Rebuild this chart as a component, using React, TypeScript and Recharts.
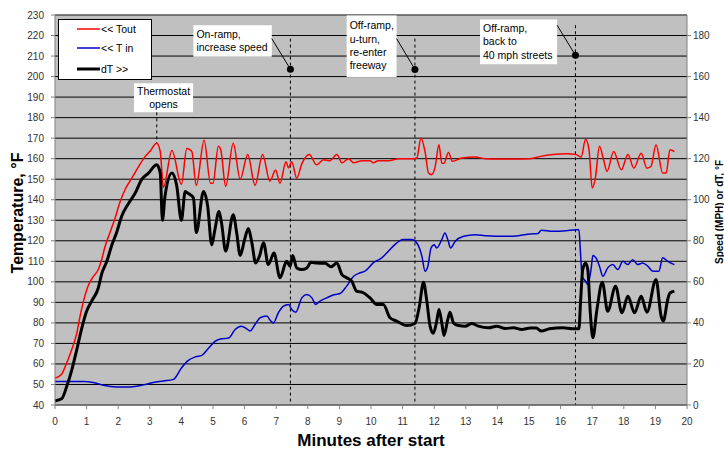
import React from 'react';
import {
  LineChart,
  Line,
  XAxis,
  YAxis,
  CartesianGrid,
  Legend,
  ReferenceLine,
  ReferenceDot,
  ReferenceArea,
} from 'recharts';

document.body.style.margin = '0';

// [minutes, °F]
const toutPoints: [number, number][] = [
  [0, 53], [0.21, 55], [0.37, 60.5], [0.53, 67], [0.69, 75], [0.79, 83], [0.9, 90.5],
  [1.06, 98.5], [1.21, 102.5], [1.37, 106], [1.48, 111], [1.58, 117], [1.74, 124],
  [1.9, 131], [2.06, 139], [2.22, 145], [2.43, 150.5], [2.64, 156], [2.85, 161],
  [3.0, 163.5], [3.22, 167.5], [3.33, 163.5], [3.43, 146], [3.7, 164], [4.0, 147.5],
  [4.17, 165], [4.33, 163.5], [4.47, 147], [4.72, 169], [4.92, 148], [5.0, 148],
  [5.17, 166], [5.25, 164], [5.4, 146.5], [5.64, 167.5], [5.86, 150], [6.1, 162],
  [6.33, 147], [6.57, 162], [6.8, 149], [6.98, 154.5], [7.12, 148], [7.31, 158.5],
  [7.39, 155.5], [7.49, 158.5], [7.65, 150.5], [7.81, 157.5], [8.05, 162], [8.28, 157],
  [8.5, 159.5], [8.7, 159], [8.92, 162], [9.08, 158], [9.29, 160], [9.45, 158],
  [9.71, 159], [9.97, 159], [10.07, 158], [10.23, 159], [10.55, 159], [10.87, 160],
  [11.34, 160], [11.45, 160.3], [11.58, 170], [11.71, 163.5], [11.82, 153],
  [11.92, 152.2], [12.03, 156], [12.15, 166.8], [12.24, 157.8], [12.31, 157.8],
  [12.45, 163], [12.58, 158.7], [12.87, 160.3], [13.3, 160.8], [13.61, 160],
  [14.03, 159.8], [14.46, 159.8], [15.04, 160], [15.34, 161], [15.76, 162],
  [16.18, 162.4], [16.49, 162], [16.65, 160.8], [16.79, 169.5], [16.9, 164.3],
  [17.0, 145.7], [17.1, 150.5], [17.23, 166], [17.36, 159.5], [17.47, 153.8],
  [17.68, 163.5], [17.92, 154.6], [18.13, 162], [18.32, 155.4], [18.55, 162.7],
  [18.73, 155.4], [18.86, 156.2], [19.02, 166.8], [19.23, 153], [19.34, 153],
  [19.46, 164.3], [19.6, 163.5],
];

const tinPoints: [number, number][] = [
  [0, 51.5], [0.9, 51.5], [1.21, 51], [1.53, 49.6], [1.95, 48.8], [2.38, 48.8],
  [2.8, 49.8], [3.11, 51], [3.43, 51.7], [3.75, 52.5], [4.0, 58], [4.2, 61.5],
  [4.45, 63.5], [4.65, 64.2], [4.85, 67.5], [5.06, 71], [5.27, 72.3], [5.5, 72.6],
  [5.7, 76.8], [5.9, 78.4], [6.07, 77.1], [6.17, 76], [6.33, 79.2], [6.49, 82.5],
  [6.7, 83.3], [6.83, 80.9], [6.91, 80], [7.07, 85], [7.23, 88.2], [7.39, 89],
  [7.49, 86.5], [7.62, 85.2], [7.81, 92.2], [7.97, 93.8], [8.13, 92.2], [8.25, 89],
  [8.39, 90.6], [8.6, 92.2], [8.86, 93.8], [9.02, 94.3], [9.23, 97.9], [9.45, 102.7],
  [9.66, 104.4], [9.81, 105.2], [10.07, 109.2], [10.34, 111.7], [10.55, 114.9],
  [10.81, 118.9], [11.02, 120.6], [11.29, 120.6], [11.45, 118.9], [11.61, 112.5],
  [11.71, 105.2], [11.8, 107.6], [11.9, 116.5], [12.0, 118.1], [12.08, 116.5],
  [12.24, 120.6], [12.34, 123.8], [12.43, 120.6], [12.52, 116.5], [12.66, 119.7],
  [12.93, 122.2], [13.3, 123], [13.61, 122.5], [13.93, 122.2], [14.25, 122.2],
  [14.67, 122.5], [15.04, 123.3], [15.28, 123.5], [15.39, 125.1], [15.76, 124.6],
  [16.18, 124.9], [16.49, 125.4], [16.58, 125.4], [16.63, 114], [16.68, 102.7],
  [16.79, 100.3], [16.86, 98.7], [16.97, 106.8], [17.02, 112.8], [17.15, 110.8],
  [17.23, 107.6], [17.34, 102.7], [17.49, 106.8], [17.65, 108.4], [17.81, 106],
  [17.97, 110], [18.13, 108.4], [18.28, 110.8], [18.44, 108.4], [18.6, 109.2],
  [18.76, 107.6], [18.92, 105.2], [19.11, 105.2], [19.23, 111.7], [19.39, 110],
  [19.6, 108.4],
];

// dT on the right-hand scale
const dtPoints: [number, number][] = [
  [0, 2], [0.21, 3], [0.37, 9], [0.53, 17], [0.69, 27], [0.84, 37], [1.0, 45.7],
  [1.16, 50.6], [1.37, 57], [1.48, 64], [1.64, 70], [1.8, 78], [1.95, 84], [2.11, 92],
  [2.32, 98], [2.53, 103], [2.75, 110], [2.96, 113], [3.22, 117], [3.33, 113],
  [3.4, 90], [3.48, 101.6], [3.7, 113], [3.85, 107], [4.0, 90], [4.12, 104],
  [4.22, 103], [4.38, 101], [4.47, 84], [4.7, 104], [4.83, 97], [4.96, 78],
  [5.06, 85.4], [5.19, 94.3], [5.27, 88.7], [5.4, 75], [5.64, 92.7], [5.75, 83.8],
  [5.86, 72.8], [6.0, 80.6], [6.12, 86], [6.23, 79], [6.35, 69.2], [6.47, 72.5],
  [6.6, 79], [6.75, 68.4], [6.93, 74], [7.12, 62], [7.33, 70], [7.44, 67.6],
  [7.52, 72.8], [7.65, 66.8], [7.81, 66], [7.97, 66.8], [8.1, 69.5], [8.28, 69.2],
  [8.55, 69], [8.74, 67.3], [8.92, 69.2], [9.08, 63.5], [9.23, 62], [9.39, 60.3],
  [9.55, 55.4], [9.71, 55], [9.97, 52.2], [10.18, 49], [10.39, 49], [10.6, 42.5],
  [10.81, 40.9], [11.13, 38.7], [11.39, 39.7], [11.53, 48], [11.66, 59.8],
  [11.76, 51.4], [11.87, 38.4], [11.97, 34.9], [12.08, 40.9], [12.15, 46.5],
  [12.24, 40], [12.31, 33.9], [12.43, 41.7], [12.5, 45.2], [12.61, 40], [12.77, 38.7],
  [12.98, 38.4], [13.19, 39.7], [13.4, 38.4], [13.72, 37.6], [13.98, 38.4],
  [14.25, 37.3], [14.51, 37.6], [14.77, 36.8], [15.04, 37.5], [15.23, 37.5],
  [15.39, 36], [15.65, 37.1], [16.07, 37.6], [16.39, 37.1], [16.58, 37.1],
  [16.63, 49.8], [16.7, 66], [16.79, 69.2], [16.86, 66], [16.94, 44.9], [17.02, 32.8],
  [17.15, 46.5], [17.32, 59.8], [17.49, 45.7], [17.74, 57.9], [17.94, 44.9],
  [18.13, 53], [18.34, 44.9], [18.55, 53], [18.73, 45.2], [19.02, 61.1], [19.18, 43.3],
  [19.25, 40.9], [19.39, 51.4], [19.46, 54.6], [19.6, 55.4],
];

const seriesNames = ['<< Tout', '<< T in', 'dT >>'];
const xTicks = [0, 1, 2, 3, 4, 5, 6, 7, 8, 9, 10, 11, 12, 13, 14, 15, 16, 17, 18, 19, 20];
const tempTicks = [40, 50, 60, 70, 80, 90, 100, 110, 120, 130, 140, 150, 160, 170, 180, 190, 200, 210, 220, 230];
const speedTicks = [0, 20, 40, 60, 80, 100, 120, 140, 160, 180];

// road events: time of the dashed marker, where the callout points
const events = [
  { t: 7.45, top: 218.5, dotY: 203.6, fromT: 6.86, fromY: 218.5 },
  { t: 11.39, top: 218.5, dotY: 203.5, fromT: 10.81, fromY: 218.5 },
  { t: 16.47, top: 225, dotY: 210.4, fromT: 15.89, fromY: 225 },
];

const notes = [
  { lines: ['Thermostat', 'opens'], x1: 2.5, x2: 4.37, y1: 182.6, y2: 196.7, center: true },
  { lines: ['On-ramp,', 'increase speed'], x1: 4.38, x2: 6.86, y1: 209.6, y2: 225, center: false },
  { lines: ['Off-ramp,', 'u-turn,', 're-enter', 'freeway'], x1: 9.23, x2: 10.81, y1: 199.8, y2: 230, center: false },
  { lines: ['Off-ramp,', 'back to', '40 mph streets'], x1: 13.45, x2: 15.89, y1: 206, y2: 227.8, center: false },
];

const toRows = (pts: [number, number][]) => pts.map(([t, v]) => ({ t, v }));

const font = 'Arial, "Liberation Sans", sans-serif';
const legendWidths: Record<string, number> = { '<< Tout': 1.5, '<< T in': 1.5, 'dT >>': 3 };

const renderLegend = (props: any) => {
  const payload = [...(props.payload || [])].sort(
    (a: any, b: any) => seriesNames.indexOf(a.value) - seriesNames.indexOf(b.value),
  );
  const rows = [10, 29, 50];
  return (
    <svg width={94} height={61} style={{ display: 'block' }}>
      <rect x={0.5} y={0.5} width={93} height={60} fill="#fff" stroke="#000" />
      {payload.map((p: any, i: number) => (
        <g key={p.value}>
          <line x1={19} x2={42} y1={rows[i]} y2={rows[i]} stroke={p.color} strokeWidth={legendWidths[p.value] || 1.5} />
          <text x={43} y={rows[i] + 4} fontSize={10.5} fontFamily={font} fill="#000">{p.value}</text>
        </g>
      ))}
    </svg>
  );
};

const noteLabel = (lines: string[], center: boolean) => (props: any) => {
  const vb = props.viewBox || {};
  const cy = vb.y + vb.height / 2;
  const first = cy - (lines.length * 13.3) / 2 + 10;
  const tx = center ? vb.x + vb.width / 2 : vb.x + 3;
  return (
    <text x={tx} textAnchor={center ? 'middle' : 'start'} fontSize={10.5} fontFamily={font} fill="#000">
      {lines.map((l, i) => (
        <tspan key={l} x={tx} y={first + i * 13.3}>{l}</tspan>
      ))}
    </text>
  );
};

const leftTitle = (props: any) => {
  const vb = props.viewBox;
  const cx = vb.x + 12;
  const cy = vb.y + vb.height / 2 + 3;
  return (
    <text x={cx} y={cy} transform={`rotate(-90 ${cx} ${cy})`} textAnchor="middle" dominantBaseline="central"
      fontSize={16} fontWeight="bold" fontFamily={font} fill="#000">Temperature, °F</text>
  );
};

const rightTitle = (props: any) => {
  const vb = props.viewBox;
  const cx = vb.x + 32;
  const cy = vb.y + vb.height / 2 + 2;
  return (
    <text x={cx} y={cy} transform={`rotate(-90 ${cx} ${cy})`} textAnchor="middle" dominantBaseline="central"
      fontSize={10} fontWeight="bold" fontFamily={font} fill="#000">Speed (MPH) or dT, °F</text>
  );
};

const bottomTitle = (props: any) => {
  const vb = props.viewBox;
  return (
    <text x={vb.x + vb.width / 2} y={446} textAnchor="middle" fontSize={17} fontWeight="bold" fontFamily={font} fill="#000">
      Minutes after start
    </text>
  );
};

const tickStyle = { fontSize: 10, fontFamily: font, fill: '#333' };

export default function App() {
  return (
    <div style={{ width: 724, height: 450, background: '#fff', fontFamily: font }}>
      <LineChart width={724} height={450} margin={{ top: 15, right: 7, bottom: 15, left: 5 }}>
        <CartesianGrid yAxisId="left" vertical={false} stroke="#000" fill="#c0c0c0" fillOpacity={1} />
        <XAxis
          type="number"
          dataKey="t"
          domain={[0, 20]}
          ticks={xTicks}
          interval={0}
          height={30}
          tickSize={4}
          tickMargin={9}
          stroke="#808080"
          tick={tickStyle}
          label={bottomTitle}
        />
        <YAxis
          yAxisId="left"
          type="number"
          domain={[40, 230]}
          ticks={tempTicks}
          interval={0}
          width={50}
          tickSize={4}
          tickMargin={7}
          stroke="#808080"
          tick={tickStyle}
          label={leftTitle}
        />
        <YAxis
          yAxisId="right"
          orientation="right"
          type="number"
          domain={[0, 190]}
          ticks={speedTicks}
          interval={0}
          width={30}
          tickSize={4}
          tickMargin={2}
          stroke="#808080"
          tick={tickStyle}
          label={rightTitle}
        />
        <ReferenceLine yAxisId="left" y={230} stroke="#808080" />

        {notes.map((n) => (
          <ReferenceArea
            key={n.lines[0] + n.x1}
            yAxisId="left"
            x1={n.x1}
            x2={n.x2}
            y1={n.y1}
            y2={n.y2}
            fill="#fff"
            fillOpacity={1}
            stroke="none"
            ifOverflow="visible"
            label={noteLabel(n.lines, n.center)}
          />
        ))}

        <ReferenceLine
          yAxisId="left"
          segment={[{ x: 3.22, y: 182.6 }, { x: 3.22, y: 167.5 }]}
          stroke="#000"
          strokeDasharray="3 3"
        />
        {events.map((e) => (
          <ReferenceLine
            key={'d' + e.t}
            yAxisId="left"
            segment={[{ x: e.t, y: e.top }, { x: e.t, y: 40 }]}
            stroke="#000"
            strokeDasharray="3 3"
          />
        ))}
        {events.map((e) => (
          <ReferenceLine
            key={'l' + e.t}
            yAxisId="left"
            segment={[{ x: e.fromT, y: e.fromY }, { x: e.t, y: e.dotY }]}
            stroke="#000"
          />
        ))}
        {events.map((e) => (
          <ReferenceDot key={'p' + e.t} yAxisId="left" x={e.t} y={e.dotY} r={3.5} fill="#000" stroke="none" />
        ))}

        <Line yAxisId="left" type="monotone" data={toRows(toutPoints)} dataKey="v" name={seriesNames[0]}
          stroke="#ff0000" strokeWidth={1.5} dot={false} isAnimationActive={false} />
        <Line yAxisId="left" type="monotone" data={toRows(tinPoints)} dataKey="v" name={seriesNames[1]}
          stroke="#0000cc" strokeWidth={1.5} dot={false} isAnimationActive={false} />
        <Line yAxisId="right" type="monotone" data={toRows(dtPoints)} dataKey="v" name={seriesNames[2]}
          stroke="#000" strokeWidth={3} dot={false} isAnimationActive={false} />

        <Legend
          layout="vertical"
          align="center"
          verticalAlign="middle"
          wrapperStyle={{ left: 58, top: 19, width: 94, height: 61 }}
          content={renderLegend}
        />
      </LineChart>
    </div>
  );
}
